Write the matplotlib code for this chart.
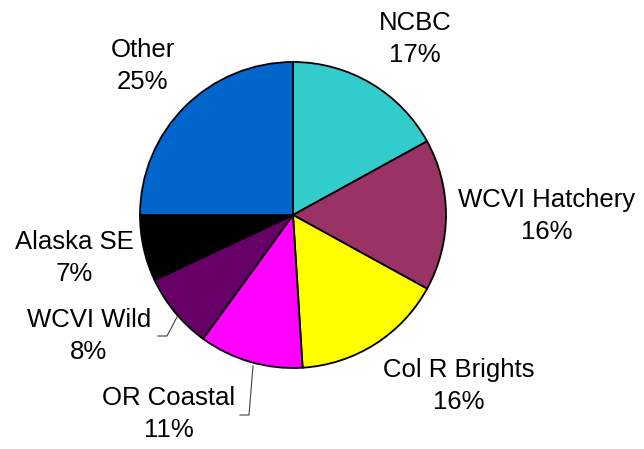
import matplotlib
matplotlib.use("Agg")
import matplotlib.pyplot as plt

# stock composition, clockwise from 12 o'clock
stocks = ['NCBC', 'WCVI Hatchery', 'Col R Brights', 'OR Coastal',
          'WCVI Wild', 'Alaska SE', 'Other']
share = [17, 16, 16, 11, 8, 7, 25]
colors = ['#33CCCC', '#993366', '#FFFF00', '#FF00FF',
          '#660066', '#000000', '#0066CC']

# label centres in pixel coords (x, y from top)
label_pos = [(415, 39), (547, 216), (459, 386), (169, 414),
             (89, 336), (74, 258), (143, 66)]

W, H = 644, 449
fig = plt.figure(figsize=(W / 100, H / 100), dpi=100)
ax = fig.add_axes([0, 0, 1, 1])

ax.pie(share, colors=colors, startangle=90, counterclock=False,
       center=(293, H - 215), radius=153,
       wedgeprops=dict(edgecolor='black', linewidth=1.3))

for name, pct, (x, y) in zip(stocks, share, label_pos):
    ax.text(x, H - y, f'{name}\n{pct}%', ha='center', va='center',
            fontsize=18.5, family='Liberation Sans', linespacing=1.4)

# leader lines for the two small labels
ax.plot([158, 167, 177], [H - 336, H - 336, H - 317], color='#404040', lw=0.8)
ax.plot([240, 249, 253], [H - 415, H - 415, H - 366], color='#404040', lw=0.8)

ax.set_xlim(0, W)
ax.set_ylim(0, H)
ax.set_aspect('equal')
ax.axis('off')

fig.savefig('out.png', dpi=100)
